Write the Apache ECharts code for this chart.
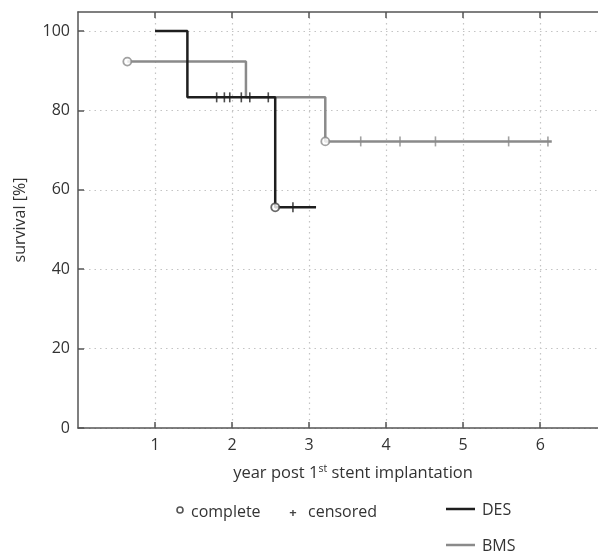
<!DOCTYPE html>
<html><head><meta charset="utf-8">
<script src="https://cdn.jsdelivr.net/npm/echarts@6/dist/echarts.min.js"></script>
<style>html,body{margin:0;padding:0;background:#fff}#c{width:598px;height:556px}</style>
</head><body><div id="c"></div>
<script>
// Kaplan-Meier step data
const desTime = [1.0, 1.42, 2.56, 3.09];
const desSurv = [100, 83.3, 55.6, 55.6];
const bmsTime = [0.64, 2.18, 3.21, 6.15];
const bmsSurv = [92.3, 83.3, 72.2, 72.2];
// complete (events) markers
const desCompleteX = [2.56];
const desCompleteY = [55.6];
const bmsCompleteX = [0.64, 3.21];
const bmsCompleteY = [92.3, 72.2];
// censored markers
const desCensX = [1.80, 1.90, 1.97, 2.12, 2.23, 2.47, 2.79];
const desCensY = [83.3, 83.3, 83.3, 83.3, 83.3, 83.3, 55.6];
const bmsCensX = [3.67, 4.18, 4.64, 5.59, 6.10];
const bmsCensY = [72.2, 72.2, 72.2, 72.2, 72.2];
const xTicks = [1, 2, 3, 4, 5, 6];
const yTicks = [0, 20, 40, 60, 80, 100];

const zip = (a, b) => a.map((v, i) => [v, b[i]]);
const DES = '#1e1e1e', BMS = '#8a8a8a';
const font = '"Open Sans", Lato, sans-serif';

const chart = echarts.init(document.getElementById('c'), null, {renderer: 'canvas'});
chart.setOption({
  animation: false,
  grid: {left: 78, top: 12, right: 0, bottom: 128},
  xAxis: [{
    type: 'value', min: 0, max: 6.75, interval: 1,
    name: 'year post 1{sup|st} stent implantation',
    nameLocation: 'middle', nameGap: 36,
    nameTextStyle: {color: '#333', fontSize: 16.5, fontFamily: font, padding: [0, 0, 0, 30],
      rich: {sup: {fontSize: 10.5, color: '#333', fontFamily: font, verticalAlign: 'top', padding: [0, 0, 8, 0]}}},
    axisLine: {show: true, onZero: false, lineStyle: {color: '#555', width: 1.5}},
    axisTick: {show: true, inside: true, length: 6, lineStyle: {color: '#555', width: 1.5}, customValues: xTicks},
    axisLabel: {color: '#333', fontSize: 16, fontFamily: font, margin: 9,
      customValues: xTicks},
    splitLine: {show: true, lineStyle: {color: '#c4c4c4', type: [1.5, 4], width: 1.2}}
  }, {
    type: 'value', position: 'top', min: 0, max: 6.75, interval: 1,
    axisLine: {show: true, onZero: false, lineStyle: {color: '#555', width: 1.5}},
    axisTick: {show: true, inside: true, length: 6, lineStyle: {color: '#555', width: 1.5}, customValues: xTicks},
    axisLabel: {show: false},
    splitLine: {show: false}
  }],
  yAxis: {
    type: 'value', min: 0, max: 104.8, interval: 20,
    name: 'survival [%]', nameLocation: 'middle', nameGap: 50,
    nameTextStyle: {color: '#333', fontSize: 16, fontFamily: font},
    axisLine: {show: true, lineStyle: {color: '#555', width: 1.5}},
    axisTick: {show: true, inside: true, length: 6, lineStyle: {color: '#555', width: 1.5}, customValues: yTicks},
    axisLabel: {color: '#333', fontSize: 16, fontFamily: font, margin: 8, customValues: yTicks},
    splitLine: {show: true, lineStyle: {color: '#c4c4c4', type: [1.5, 4], width: 1.2}}
  },
  series: [
    {type: 'line', step: 'end', data: zip(bmsTime, bmsSurv), showSymbol: false, z: 2,
      lineStyle: {color: BMS, width: 2.5}},
    {type: 'line', step: 'end', data: zip(desTime, desSurv), showSymbol: false, z: 3,
      lineStyle: {color: DES, width: 2.5}},
    {type: 'scatter', data: zip(bmsCensX, bmsCensY), symbol: 'rect', symbolSize: [1.6, 10], z: 4,
      itemStyle: {color: BMS}},
    {type: 'scatter', data: zip(desCensX, desCensY), symbol: 'rect', symbolSize: [1.6, 10], z: 5,
      itemStyle: {color: DES}},
    {type: 'scatter', data: zip(bmsCompleteX, bmsCompleteY), symbol: 'circle', symbolSize: 8, z: 6,
      itemStyle: {color: '#fff', borderColor: BMS, borderWidth: 1.8}},
    {type: 'scatter', data: zip(desCompleteX, desCompleteY), symbol: 'circle', symbolSize: 8, z: 6,
      itemStyle: {color: '#fff', borderColor: '#444', borderWidth: 1.8}}
  ],
  graphic: [
    {type: 'circle', shape: {cx: 180, cy: 510, r: 3}, style: {fill: '#fff', stroke: '#555', lineWidth: 1.6}},
    {type: 'text', x: 191, y: 512, style: {text: 'complete', fill: '#333', font: '16px ' + font, textVerticalAlign: 'middle'}},
    {type: 'text', x: 293, y: 513, style: {text: '+', fill: '#444', font: 'bold 13px ' + font, textAlign: 'center', textVerticalAlign: 'middle'}},
    {type: 'text', x: 308, y: 512, style: {text: 'censored', fill: '#333', font: '16px ' + font, textVerticalAlign: 'middle'}},
    {type: 'line', shape: {x1: 446, y1: 509, x2: 475, y2: 509}, style: {stroke: DES, lineWidth: 2.5}},
    {type: 'text', x: 482, y: 510, style: {text: 'DES', fill: '#333', font: '16px ' + font, textVerticalAlign: 'middle'}},
    {type: 'line', shape: {x1: 446, y1: 545, x2: 475, y2: 545}, style: {stroke: BMS, lineWidth: 2.5}},
    {type: 'text', x: 482, y: 546, style: {text: 'BMS', fill: '#333', font: '16px ' + font, textVerticalAlign: 'middle'}}
  ]
});
</script></body></html>
